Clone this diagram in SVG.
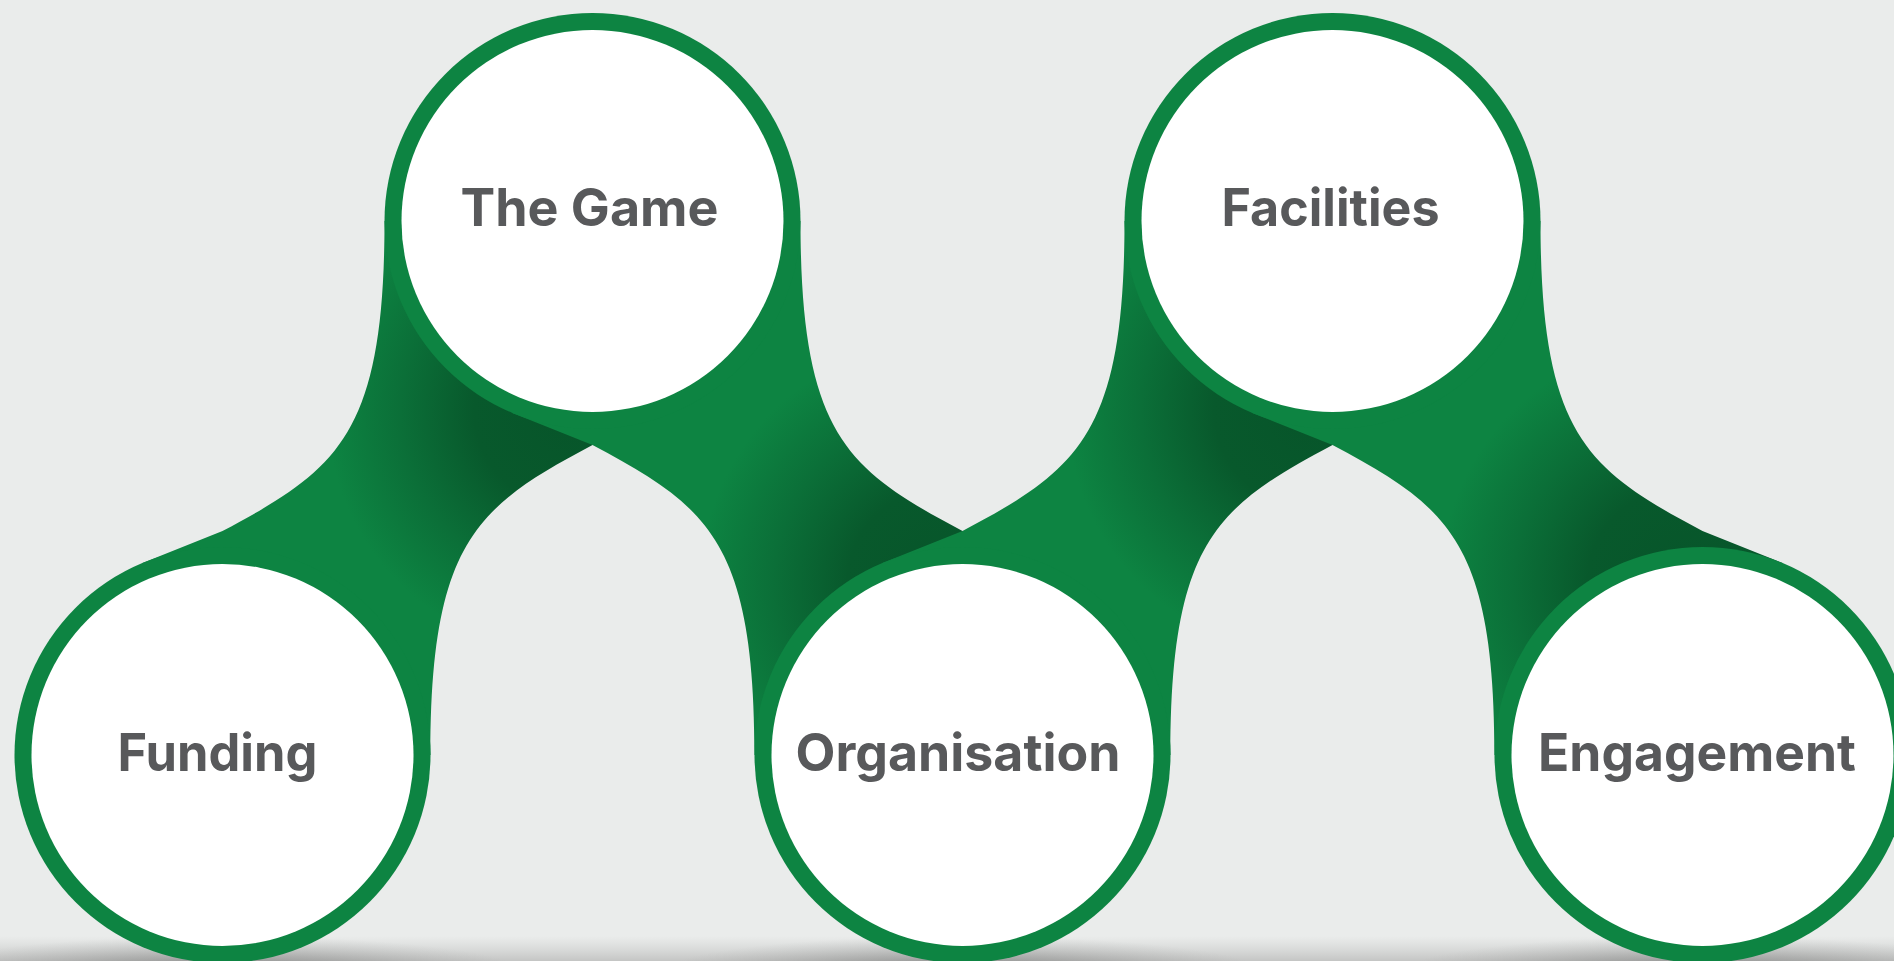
<svg xmlns="http://www.w3.org/2000/svg" width="1894" height="961" viewBox="0 0 1894 961">
  <defs>
    <style>
      .ring { fill: #0d8442; }
      .hole { fill: #ffffff; }
      .label { font-family: Inter, "Liberation Sans", sans-serif; font-weight: 700; font-size: 52px; fill: #58595b; text-anchor: middle; font-variant-ligatures: none; font-feature-settings: "liga" 0, "calt" 0; }
    </style>
    <radialGradient id="sh1" gradientUnits="userSpaceOnUse" cx="572" cy="410" r="245">
      <stop offset="0" stop-color="#07552a"/>
      <stop offset="0.4" stop-color="#08592c"/>
      <stop offset="0.7" stop-color="#0b6f38"/>
      <stop offset="1" stop-color="#0d8442"/>
    </radialGradient>
    <radialGradient id="sh2" href="#sh1" cx="945" cy="585"/>
    <radialGradient id="sh3" href="#sh1" cx="1312" cy="410"/>
    <radialGradient id="sh4" href="#sh1" cx="1685" cy="585"/>
    <radialGradient id="drop">
      <stop offset="0" stop-color="#585958" stop-opacity="0.6"/>
      <stop offset="0.5" stop-color="#6a6b6a" stop-opacity="0.3"/>
      <stop offset="1" stop-color="#8a8b8a" stop-opacity="0"/>
    </radialGradient>
    <linearGradient id="floor" x1="0" y1="0" x2="0" y2="1">
      <stop offset="0" stop-color="#d0d1d0" stop-opacity="0"/>
      <stop offset="1" stop-color="#c4c5c4" stop-opacity="1"/>
    </linearGradient>
  </defs>

  <rect x="0" y="0" width="1894" height="961" fill="#eaeceb"/>
  <rect x="0" y="936" width="1894" height="25" fill="url(#floor)"/>
  <g id="shadows">
    <ellipse cx="222.5" cy="972" rx="300" ry="36" fill="url(#drop)"/>
    <ellipse cx="962.5" cy="972" rx="300" ry="36" fill="url(#drop)"/>
    <ellipse cx="1702.5" cy="972" rx="300" ry="36" fill="url(#drop)"/>
  </g>

  <g id="connectors">
    <path id="band-funding-game" fill="url(#sh1)" d="M 142.5 563 L 222.5 531 C 337 470 384.5 436 384.5 221 L 592.5 221 L 592.5 445 C 478 506 430.5 540 430.5 755 L 222.5 755 Z"/>
    <path id="band-game-organisation" fill="url(#sh2)" d="M 512.5 413 L 592.5 445 C 707 506 754.5 540 754.5 755 L 962.5 755 L 1042.5 563 L 962.5 531 C 848 470 800.5 436 800.5 221 L 592.5 221 Z"/>
    <path id="band-organisation-facilities" fill="url(#sh3)" d="M 882.5 563 L 962.5 531 C 1077 470 1124.5 436 1124.5 221 L 1332.5 221 L 1332.5 445 C 1218 506 1170.5 540 1170.5 755 L 962.5 755 Z"/>
    <path id="band-facilities-engagement" fill="url(#sh4)" d="M 1252.5 413 L 1332.5 445 C 1447 506 1494.5 540 1494.5 755 L 1702.5 755 L 1782.5 563 L 1702.5 531 C 1588 470 1540.5 436 1540.5 221 L 1332.5 221 Z"/>
  </g>

  <g id="node-funding">
    <circle class="ring" cx="222.5" cy="755" r="208"/>
    <circle class="hole" cx="222.5" cy="755" r="191"/>
    <text class="label" x="217.5" y="771" textLength="200" lengthAdjust="spacingAndGlyphs">Funding</text>
  </g>
  <g id="node-the-game">
    <circle class="ring" cx="592.5" cy="221" r="208"/>
    <circle class="hole" cx="592.5" cy="221" r="191"/>
    <text class="label" x="589.5" y="226" textLength="258" lengthAdjust="spacingAndGlyphs">The Game</text>
  </g>
  <g id="node-organisation">
    <circle class="ring" cx="962.5" cy="755" r="208"/>
    <circle class="hole" cx="962.5" cy="755" r="191"/>
    <text class="label" x="958" y="771" textLength="325" lengthAdjust="spacingAndGlyphs">Organisation</text>
  </g>
  <g id="node-facilities">
    <circle class="ring" cx="1332.5" cy="221" r="208"/>
    <circle class="hole" cx="1332.5" cy="221" r="191"/>
    <text class="label" x="1330.5" y="226" textLength="218" lengthAdjust="spacingAndGlyphs">Facilities</text>
  </g>
  <g id="node-engagement">
    <circle class="ring" cx="1702.5" cy="755" r="208"/>
    <circle class="hole" cx="1702.5" cy="755" r="191"/>
    <text class="label" x="1697" y="771" textLength="318" lengthAdjust="spacingAndGlyphs">Engagement</text>
  </g>
</svg>
